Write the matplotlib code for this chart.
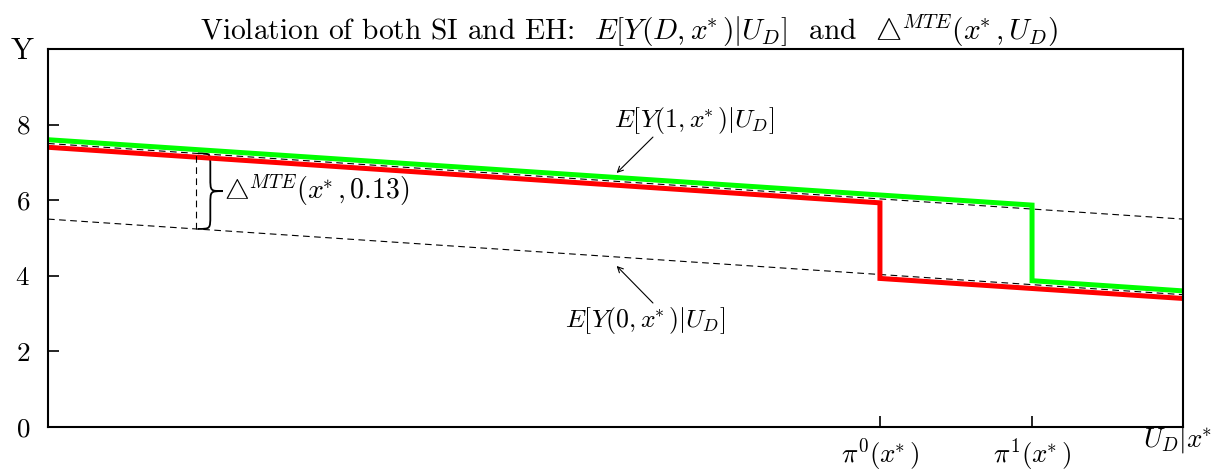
import numpy as np
import matplotlib
matplotlib.use('Agg')
import matplotlib.pyplot as plt
from matplotlib.path import Path
from matplotlib.patches import PathPatch

plt.rcParams['mathtext.fontset'] = 'cm'
plt.rcParams['font.family'] = 'serif'
plt.rcParams['font.serif'] = ['cmr10', 'DejaVu Serif']
plt.rcParams['axes.formatter.use_mathtext'] = True

# propensity thresholds on U_D
pi0 = 0.733
pi1 = 0.867

# conditional means E[Y(1,x*)|U_D] and E[Y(0,x*)|U_D]
u_ends = [0.0, 1.0]
ey1 = [7.5, 5.5]
ey0 = [5.5, 3.5]

# observed outcome paths for the two groups
green_u = [0.0, pi1, pi1, 1.0]
green_y = [7.6, 5.87, 3.87, 3.6]
red_u = [0.0, pi0, pi0, 1.0]
red_y = [7.4, 5.93, 3.93, 3.4]

# MTE evaluated at this point
u_mte = 0.13

y_ticks = [0, 2, 4, 6, 8]
x_ticks = [pi0, pi1]
XS = r'x^{\!\!*}'
x_ticklabels = [rf'$\pi^0({XS})$', rf'$\pi^1({XS})$']

fig = plt.figure(figsize=(12.25, 4.73), dpi=100)
ax = fig.add_axes([0.0392, 0.0973, 0.9265, 0.7991])

dash = (0, (6, 4))
ax.plot(u_ends, ey1, color='black', lw=0.8, ls=dash)
ax.plot(u_ends, ey0, color='black', lw=0.8, ls=dash)
ax.plot(green_u, green_y, color='#00ff00', lw=3.6, solid_joinstyle='miter')
ax.plot(red_u, red_y, color='#ff0000', lw=3.6, solid_joinstyle='miter')

# vertical gap at u_mte and a brace beside it
y_top = np.interp(u_mte, u_ends, ey1)
y_bot = np.interp(u_mte, u_ends, ey0)
ax.plot([u_mte, u_mte], [y_bot, y_top], color='black', lw=0.8, ls=dash)

x0 = u_mte + 0.002
xs = u_mte + 0.013
xt = u_mte + 0.024
ym = (y_top + y_bot) / 2
r = 0.35
verts = [(x0, y_top), (xs, y_top), (xs, y_top), (xs, y_top - r),
         (xs, ym + r),
         (xs, ym), (xs, ym), (xt, ym),
         (xs, ym), (xs, ym), (xs, ym - r),
         (xs, y_bot + r),
         (xs, y_bot), (xs, y_bot), (x0, y_bot)]
codes = [Path.MOVETO, Path.CURVE4, Path.CURVE4, Path.CURVE4,
         Path.LINETO,
         Path.CURVE4, Path.CURVE4, Path.CURVE4,
         Path.CURVE4, Path.CURVE4, Path.CURVE4,
         Path.LINETO,
         Path.CURVE4, Path.CURVE4, Path.CURVE4]
ax.add_patch(PathPatch(Path(verts, codes), facecolor='none', edgecolor='black', lw=1.3))
ax.text(xt + 0.001, ym, rf'$\bigtriangleup^{{MTE}}({XS},0.13)$', fontsize=20, ha='left', va='center')

# curve labels with pointer arrows
ax.text(0.569, 8.1, rf'$E[Y(1,{XS})|U_D]$', fontsize=18.5, ha='center', va='center')
ax.annotate('', xy=(0.501, 6.72), xytext=(0.533, 7.67),
            arrowprops=dict(arrowstyle='->', color='black', lw=0.8, shrinkA=0, shrinkB=0))
ax.text(0.526, 2.83, rf'$E[Y(0,{XS})|U_D]$', fontsize=18.5, ha='center', va='center')
ax.annotate('', xy=(0.501, 4.26), xytext=(0.533, 3.28),
            arrowprops=dict(arrowstyle='->', color='black', lw=0.8, shrinkA=0, shrinkB=0))

ax.set_xlim(0, 1)
ax.set_ylim(0, 10)
ax.set_yticks(y_ticks)
ax.set_xticks(x_ticks)
ax.set_xticklabels(x_ticklabels)
ax.tick_params(direction='in', length=8, width=1.2, labelsize=19.5)
ax.tick_params(axis='x', pad=7)
ax.tick_params(axis='y', pad=13)
for s in ax.spines.values():
    s.set_linewidth(1.5)

ax.text(-0.023, 0.995, 'Y', transform=ax.transAxes, fontsize=22, ha='center', va='center')
ax.text(0.995, -0.034, rf'$U_D|{XS}$', transform=ax.transAxes, fontsize=19.5, ha='center', va='center')
ax.set_title(rf'Violation of both SI and EH:  $E[Y(D,{XS})|U_D]$  and  $\bigtriangleup^{{MTE}}({XS},U_D)$',
             fontsize=21.2, pad=5, x=0.512)

fig.savefig('out.png', dpi=100)
